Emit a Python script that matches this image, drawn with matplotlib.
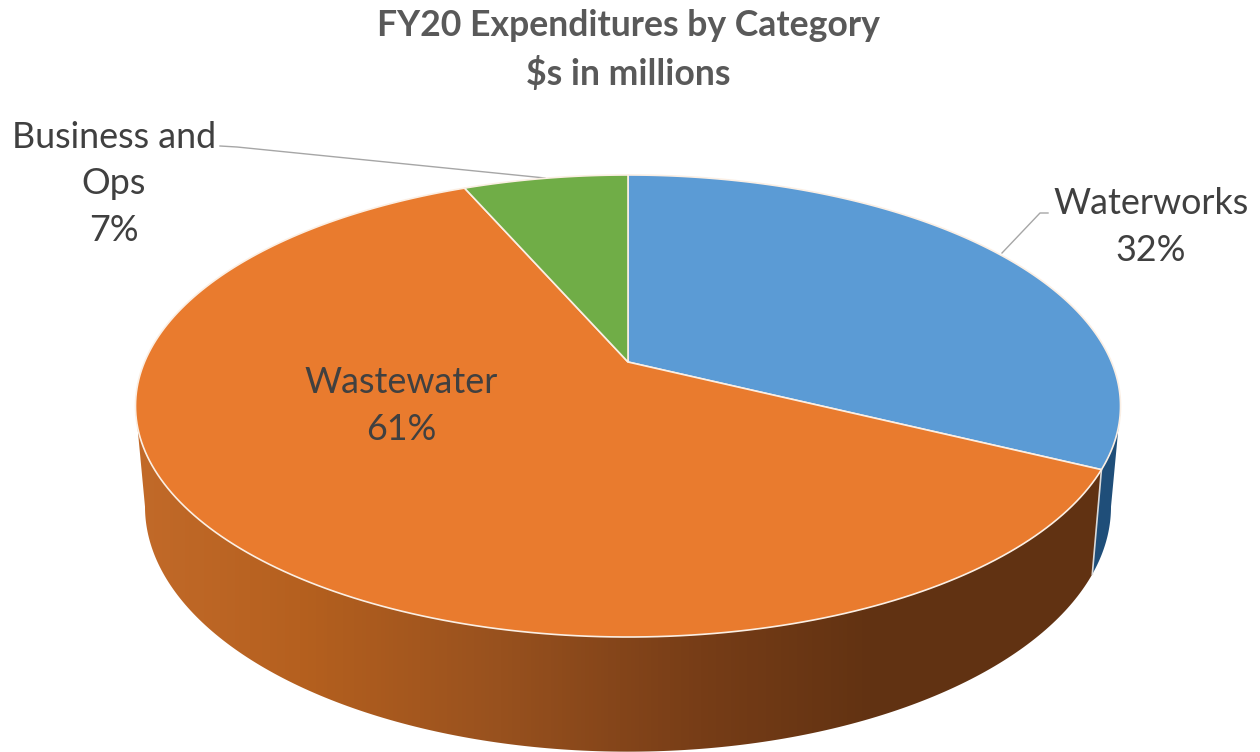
import numpy as np
import matplotlib
matplotlib.use("Agg")
import matplotlib.pyplot as plt
from matplotlib.colors import LinearSegmentedColormap
from matplotlib.patches import Polygon

plt.rcParams['font.family'] = ['Lato', 'DejaVu Sans']

# shares, clockwise from 12 o'clock
categories = ["Waterworks", "Wastewater", "Business and\nOps"]
shares = [32.3, 61.2, 6.5]
percent_labels = ["32%", "61%", "7%"]
top_colors = ["#5B9BD5", "#E97B2E", "#70AD47"]
title_lines = ["FY20 Expenditures by Category", "$s in millions"]

# side wall shading of the big slice, left to right
shade_x = [135, 300, 500, 700, 880, 1120]
shade_colors = ["#C26A29", "#B5601F", "#98511E", "#773D17", "#613212", "#613212"]

CX = 628
K = 0.1905  # perspective of the tilted disc


def project(deg, apex_y, half_w, half_h):
    # deg is clockwise from the top of the disc
    t = np.radians(deg)
    w = 1 + K * np.cos(t)
    a = half_w * np.sqrt(1 - K ** 2)
    b = half_h * (1 - K ** 2)
    return np.column_stack([CX + a * np.sin(t) / w, apex_y - b * np.cos(t) / w])


def top(deg):
    return project(deg, 362, 492.5, 231)


def bottom(deg):
    return project(deg, 460, 483, 245)


def wall(a0, a1):
    deg = np.linspace(a0, a1, 200)
    return np.vstack([top(deg), bottom(deg)[::-1]])


fig = plt.figure(figsize=(12.6, 7.52), dpi=100)
ax = fig.add_axes([0, 0, 1, 1])
ax.set_xlim(0, 1260)
ax.set_ylim(752, 0)
ax.axis('off')

edges = np.concatenate([[0], np.cumsum(shares)]) * 3.6
side_limit = np.degrees(np.arccos(-K))  # widest point of the disc

# side walls, only the front facing part shows
blue_wall = Polygon(wall(side_limit, edges[1]), closed=True, fc="#1F4E79", ec="none", zorder=1)
ax.add_patch(blue_wall)

orange_wall = Polygon(wall(edges[1], 360 - side_limit), closed=True, fc="none", ec="none", zorder=1)
ax.add_patch(orange_wall)
stops = [(x - shade_x[0]) / (shade_x[-1] - shade_x[0]) for x in shade_x]
cmap = LinearSegmentedColormap.from_list("wall", list(zip(stops, shade_colors)))
img = ax.imshow(np.linspace(0, 1, 256)[None, :], cmap=cmap, aspect='auto',
                extent=[shade_x[0], shade_x[-1], 760, 300], zorder=1)
img.set_clip_path(orange_wall)
ax.set_xlim(0, 1260)
ax.set_ylim(752, 0)

corner = np.vstack([top(edges[1]), bottom(edges[1])])
ax.plot(corner[:, 0], corner[:, 1], color="#D9D9D9", lw=1.2, zorder=2)

# top face
for i, c in enumerate(top_colors):
    arc = top(np.linspace(edges[i], edges[i + 1], 200))
    pts = np.vstack([[CX, 362], arc])
    ax.add_patch(Polygon(pts, closed=True, fc=c, ec="#FBEFE4", lw=1.2, zorder=3))

# leader lines
ax.plot([220, 237, 545], [146, 147, 178], color="#A6A6A6", lw=1, zorder=2)
ax.plot([1048, 1040, 1002], [213, 213, 253], color="#A6A6A6", lw=1, zorder=2)

label_pos = [(1151, 227), (401, 406), (114, 184)]
for name, pct, (x, y) in zip(categories, percent_labels, label_pos):
    ax.text(x, y, f"{name}\n{pct}", ha='center', va='center', ma='center',
            fontsize=25.8, color="#404040", linespacing=1.49, zorder=4)

ax.text(CX, 50, "\n".join(title_lines), ha='center', va='center', ma='center',
        fontsize=25.7, fontweight='bold', color="#595959", linespacing=1.465, zorder=4)

fig.savefig("out.png", dpi=100)
plt.close(fig)
